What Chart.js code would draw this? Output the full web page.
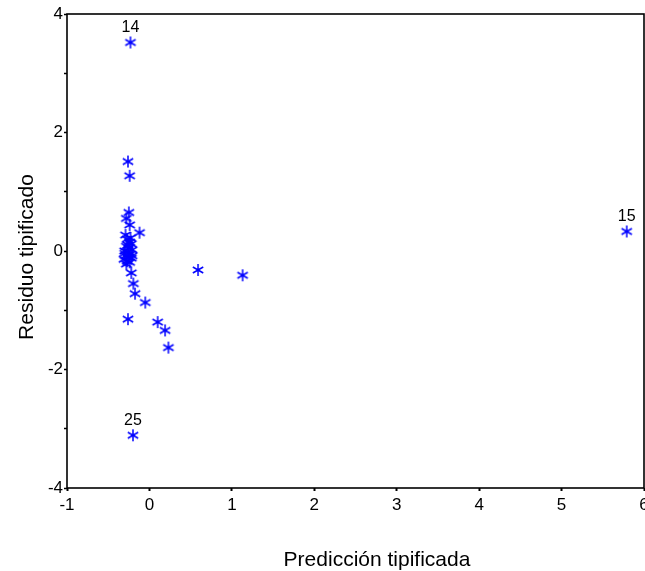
<!DOCTYPE html>
<html>
<head>
<meta charset="utf-8">
<script src="https://cdn.jsdelivr.net/npm/chart.js@4"></script>
<style>
  html, body { margin: 0; padding: 0; background: #fff; }
  #wrap { width: 645px; height: 571px; }
</style>
</head>
<body>
<div id="wrap"><canvas id="c" width="645" height="571"></canvas></div>
<script>
// standardized predicted value (x) vs standardized residual (y)
const predX = [
  -0.23, 5.79, -0.20, -0.26, -0.24, -0.25, -0.28, -0.24, -0.12, -0.29,
  -0.27, -0.24, -0.22, -0.28, -0.25, -0.21, -0.30, -0.26, -0.23, -0.29,
  -0.25, -0.22, -0.31, -0.27, -0.24, -0.28, -0.26, -0.23, -0.30, -0.21,
  -0.22, -0.195, -0.175, -0.05, -0.26, 0.10, 0.19, 0.23, 0.59, 1.13
];
const resY = [
  3.52, 0.33, -3.11, 1.51, 1.27, 0.65, 0.55, 0.44, 0.31, 0.27,
  0.20, 0.15, 0.12, 0.08, 0.05, 0.02, 0.00, -0.02, -0.05, -0.08,
  -0.10, -0.12, -0.14, -0.17, -0.19, -0.22, 0.10, 0.22, -0.04, -0.08,
  -0.37, -0.55, -0.72, -0.87, -1.15, -1.20, -1.34, -1.63, -0.32, -0.41
];
const caseIds = ["14", "15", "25"]; // first three points are labelled
const xTicks = [-1, 0, 1, 2, 3, 4, 5, 6];
const yTicks = [-4, -2, 0, 2, 4];
const yMinor = [-3, -1, 1, 3];

// six-armed asterisk marker
function makeAsterisk(size, color) {
  const cv = document.createElement("canvas");
  cv.width = size; cv.height = size;
  const g = cv.getContext("2d");
  const r = size / 2 - 1, c = size / 2;
  g.strokeStyle = color;
  g.lineWidth = 1.5;
  g.beginPath();
  [90, 30, 150].forEach((deg) => {
    const a = deg * Math.PI / 180;
    g.moveTo(c - r * Math.cos(a), c - r * Math.sin(a));
    g.lineTo(c + r * Math.cos(a), c + r * Math.sin(a));
  });
  g.stroke();
  return cv;
}
const star = makeAsterisk(14, "#0000ff");

const FONT = "'Liberation Sans', Arial, sans-serif";

const frame = {
  id: "frame",
  afterDraw(chart) {
    const { ctx, chartArea: a } = chart;
    ctx.save();
    ctx.strokeStyle = "#000";
    ctx.lineWidth = 1.6;
    ctx.strokeRect(a.left, a.top, a.right - a.left, a.bottom - a.top);
    // case labels
    const meta = chart.getDatasetMeta(0);
    ctx.fillStyle = "#000";
    ctx.font = "16px " + FONT;
    ctx.textAlign = "center";
    ctx.textBaseline = "alphabetic";
    caseIds.forEach((lab, i) => {
      const p = meta.data[i];
      ctx.fillText(lab, p.x, p.y - 10);
    });
    // axis titles
    ctx.font = "21px " + FONT;
    ctx.fillText("Predicción tipificada", 377, 566);
    ctx.translate(33, 257);
    ctx.rotate(-Math.PI / 2);
    ctx.fillText("Residuo tipificado", 0, 0);
    ctx.restore();
  },
};

new Chart(document.getElementById("c"), {
  type: "scatter",
  data: {
    datasets: [{
      data: predX.map((x, i) => ({ x: x, y: resY[i] })),
      pointStyle: star,
      pointRadius: 7,
      pointHoverRadius: 7,
    }],
  },
  options: {
    responsive: false,
    animation: false,
    layout: { autoPadding: false, padding: { top: 14, right: 1, left: 0, bottom: 0 } },
    plugins: { legend: { display: false }, tooltip: { enabled: false } },
    scales: {
      x: {
        type: "linear",
        min: -1, max: 6,
        afterBuildTicks: (s) => { s.ticks = xTicks.map((v) => ({ value: v })); },
        afterFit: (s) => { s.height = 83; s.paddingRight = 0; s.paddingLeft = 0; },
        border: { display: false },
        grid: { drawOnChartArea: false, tickLength: 3, tickWidth: 2, color: "#000" },
        ticks: { color: "#000", font: { family: FONT, size: 17 }, padding: 4, maxRotation: 0 },
      },
      y: {
        type: "linear",
        min: -4, max: 4,
        afterBuildTicks: (s) => {
          s.ticks = yTicks.concat(yMinor).sort((p, q) => p - q).map((v) => ({ value: v }));
        },
        afterFit: (s) => { s.width = 67; s.paddingTop = 0; s.paddingBottom = 0; },
        border: { display: false },
        grid: { drawOnChartArea: false, tickLength: 3, tickWidth: 1.5, color: "#000" },
        ticks: {
          color: "#000", font: { family: FONT, size: 17 }, padding: 1,
          callback: (v) => (yTicks.includes(v) ? String(v) : ""),
        },
      },
    },
  },
  plugins: [frame],
});
</script>
</body>
</html>
